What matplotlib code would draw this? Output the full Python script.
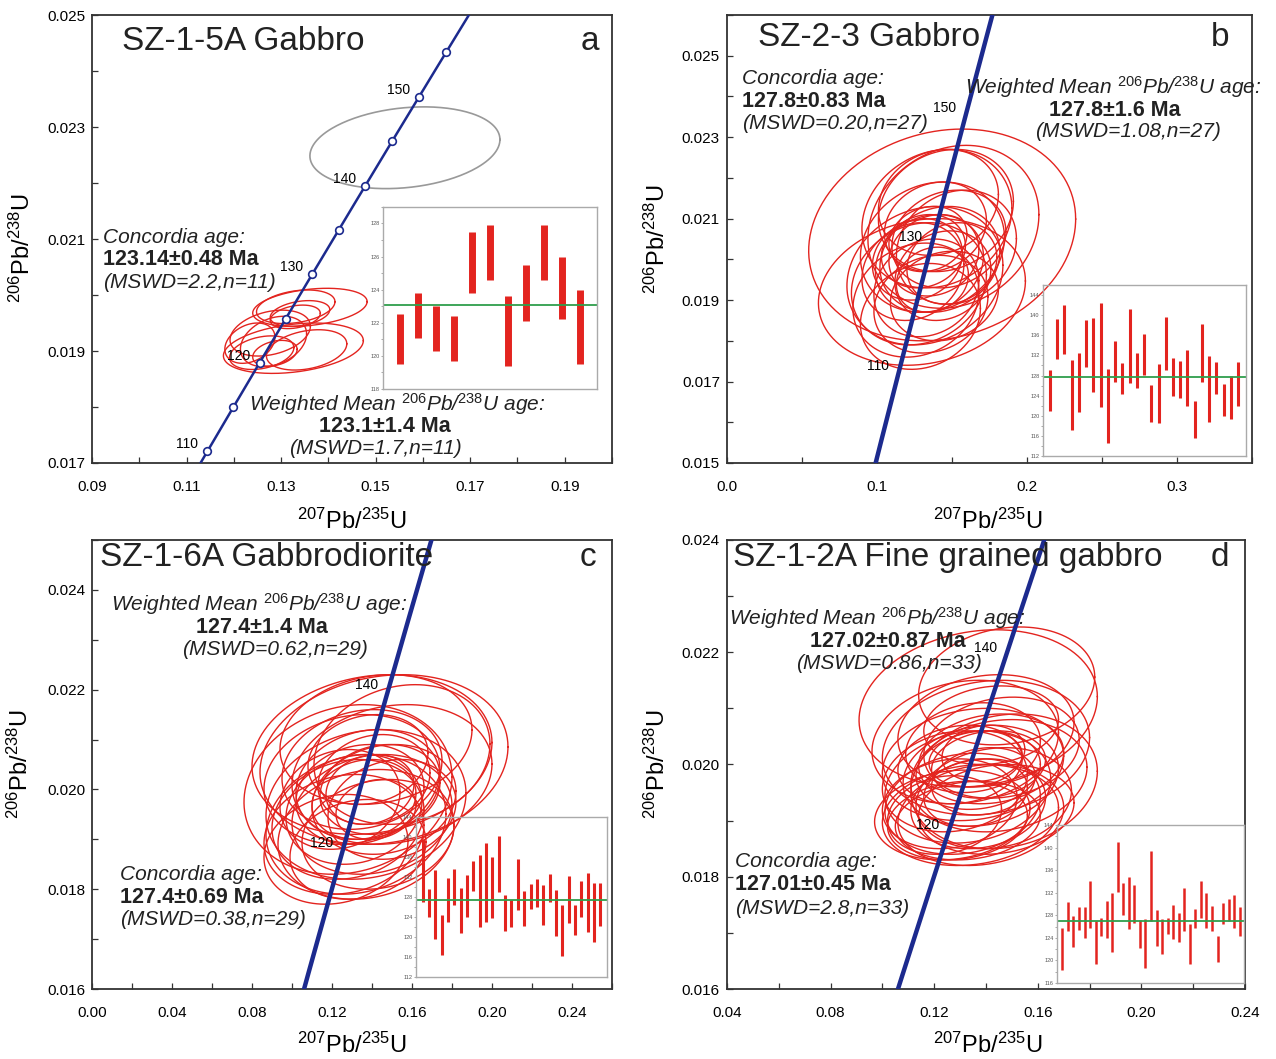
import numpy as np
import matplotlib
matplotlib.use("Agg")
import matplotlib.pyplot as plt

plt.rcParams["font.family"] = ["Liberation Sans", "DejaVu Sans"]
plt.rcParams["mathtext.fontset"] = "custom"
plt.rcParams["mathtext.rm"] = "Liberation Sans"
plt.rcParams["mathtext.it"] = "Liberation Sans:italic"
plt.rcParams["mathtext.bf"] = "Liberation Sans:bold"

# decay constants (1/yr)
L238 = 1.55125e-10
L235 = 9.8485e-10

RED = "#e3241f"
BLUE = "#1c2a8e"
GREEN = "#2f9e4c"

# ---------------- panel a : SZ-1-5A ----------------
a_cx = [0.1361, 0.1331, 0.1340, 0.1330, 0.1326, 0.1277, 0.1284, 0.1354, 0.1259, 0.1287, 0.1234]
a_cy = [0.01978, 0.01979, 0.01967, 0.01961, 0.01905, 0.01932, 0.01917, 0.01902, 0.01897, 0.01896, 0.01914]
a_sx = [0.0121, 0.0083, 0.0063, 0.0053, 0.0148, 0.0085, 0.0070, 0.0085, 0.0068, 0.0047, 0.0053]
a_sy = [0.00034, 0.00030, 0.00023, 0.00021, 0.00045, 0.00041, 0.00045, 0.00036, 0.00030, 0.00023, 0.00036]
a_grey = (0.1562, 0.02263, 0.0201, 0.00073)
a_marks = [110, 115, 120, 125, 130, 135, 140, 145, 150, 155]
a_labels = [110, 120, 130, 140, 150]
a_lo = [119.5, 121.1, 120.3, 119.7, 123.8, 124.6, 119.4, 122.1, 124.6, 122.2, 119.5]
a_hi = [122.5, 123.8, 123.0, 122.4, 127.5, 127.9, 123.6, 125.5, 127.9, 126.0, 124.0]
a_mean = 123.1

# ---------------- panel b : SZ-2-3 ----------------
b_cx = [0.1435, 0.130, 0.151, 0.140, 0.146, 0.137, 0.132, 0.128, 0.142, 0.135, 0.126, 0.148, 0.138, 0.133,
        0.144, 0.131, 0.150, 0.124, 0.139, 0.136, 0.129, 0.145, 0.141, 0.134, 0.127, 0.153, 0.137]
b_cy = [0.0206, 0.0192, 0.0208, 0.0210, 0.0212, 0.0203, 0.0196, 0.0194, 0.0200, 0.0199, 0.0190, 0.0205, 0.0201, 0.0193,
        0.0196, 0.0202, 0.0199, 0.0197, 0.0208, 0.0189, 0.0186, 0.0191, 0.0214, 0.0205, 0.0200, 0.0203, 0.0195]
b_sx = [0.089, 0.069, 0.057, 0.050, 0.045, 0.048, 0.052, 0.045, 0.040, 0.036, 0.042, 0.038, 0.030, 0.035,
        0.032, 0.028, 0.030, 0.034, 0.034, 0.038, 0.040, 0.036, 0.040, 0.026, 0.030, 0.040, 0.024]
b_sy = [0.0026, 0.0018, 0.0020, 0.0017, 0.0015, 0.0016, 0.0017, 0.0015, 0.0013, 0.0012, 0.0014, 0.0012, 0.0010, 0.0012,
        0.0011, 0.0009, 0.0010, 0.0012, 0.0011, 0.0012, 0.0013, 0.0011, 0.0013, 0.0008, 0.0010, 0.0014, 0.0008]
b_labels = [110, 130, 150]
b_lo = [120.9, 131.3, 132.3, 117.1, 120.7, 129.7, 124.7, 121.8, 114.6, 126.8, 124.3, 126.5, 125.6, 128.1,
        118.8, 118.5, 129.1, 123.9, 123.6, 121.9, 115.6, 126.7, 118.8, 124.3, 120.0, 119.3, 122.0]
b_hi = [129.1, 139.3, 142.0, 131.1, 132.5, 139.1, 139.5, 142.4, 129.2, 134.9, 130.5, 141.3, 132.5, 136.2,
        126.2, 130.3, 139.6, 131.5, 130.9, 133.1, 122.9, 138.2, 131.8, 130.7, 126.4, 127.9, 130.6]
b_mean = 127.8

# ---------------- panel c : SZ-1-6A ----------------
c_cx = [0.140, 0.146, 0.128, 0.132, 0.150, 0.137, 0.126, 0.142, 0.138, 0.134, 0.141, 0.139, 0.136, 0.144, 0.131,
        0.128, 0.146, 0.140, 0.135, 0.150, 0.124, 0.133, 0.143, 0.138, 0.142, 0.130, 0.155, 0.122, 0.137]
c_cy = [0.0207, 0.0206, 0.0200, 0.0193, 0.0203, 0.0197, 0.0191, 0.0210, 0.0201, 0.0199, 0.0202, 0.0200, 0.0198, 0.0200, 0.0196,
        0.0194, 0.0198, 0.0195, 0.0204, 0.0196, 0.0198, 0.0188, 0.0191, 0.0206, 0.0196, 0.0202, 0.0207, 0.0188, 0.0191]
c_sx = [0.060, 0.062, 0.052, 0.045, 0.050, 0.050, 0.040, 0.048, 0.036, 0.032, 0.028, 0.022, 0.026, 0.030, 0.034,
        0.038, 0.036, 0.040, 0.040, 0.032, 0.030, 0.034, 0.038, 0.030, 0.020, 0.044, 0.044, 0.036, 0.044]
c_sy = [0.0016, 0.0017, 0.0017, 0.0014, 0.0014, 0.0015, 0.0012, 0.0013, 0.0011, 0.0010, 0.0009, 0.0007, 0.0008, 0.0009, 0.0011,
        0.0012, 0.0011, 0.0012, 0.0012, 0.0010, 0.0010, 0.0010, 0.0011, 0.0009, 0.0006, 0.0013, 0.0014, 0.0011, 0.0013]
c_labels = [120, 140]
c_lo = [127.0, 124.0, 119.6, 116.5, 123.1, 126.5, 120.8, 124.1, 129.2, 122.0, 123.0, 123.8, 129.0, 121.2, 122.0,
        125.5, 122.3, 125.7, 126.0, 122.5, 127.1, 120.3, 116.2, 122.9, 120.4, 124.0, 121.0, 119.1, 122.3]
c_hi = [139.6, 129.6, 133.5, 124.5, 131.9, 133.7, 129.8, 132.4, 135.2, 136.4, 138.9, 136.1, 140.2, 128.5, 127.5,
        135.7, 129.2, 130.6, 131.6, 130.4, 132.7, 129.4, 126.5, 132.2, 126.5, 131.2, 132.8, 130.9, 130.9]
c_mean = 127.4

# ---------------- panel d : SZ-1-2A ----------------
d_cx = [0.137, 0.148, 0.140, 0.129, 0.135, 0.138, 0.133, 0.142, 0.137, 0.139, 0.136, 0.131, 0.127, 0.134, 0.145, 0.140, 0.132,
        0.128, 0.143, 0.137, 0.141, 0.135, 0.146, 0.130, 0.126, 0.138, 0.133, 0.144, 0.147, 0.124, 0.139, 0.136, 0.142]
d_cy = [0.0210, 0.0214, 0.0203, 0.0190, 0.0200, 0.0198, 0.0196, 0.0201, 0.0199, 0.0197, 0.0201, 0.0193, 0.0191, 0.0191, 0.0198, 0.0206, 0.0204,
        0.0197, 0.0194, 0.0193, 0.0200, 0.0203, 0.0203, 0.0200, 0.0193, 0.0191, 0.0190, 0.0192, 0.0197, 0.0191, 0.0202, 0.0195, 0.0207]
d_sx = [0.046, 0.034, 0.040, 0.027, 0.035, 0.030, 0.032, 0.028, 0.024, 0.020, 0.018, 0.030, 0.030, 0.034, 0.034, 0.034, 0.036,
        0.028, 0.030, 0.026, 0.022, 0.026, 0.030, 0.024, 0.026, 0.032, 0.028, 0.030, 0.036, 0.022, 0.016, 0.020, 0.026]
d_sy = [0.0014, 0.00105, 0.0012, 0.0007, 0.0010, 0.0009, 0.0010, 0.0008, 0.0007, 0.0006, 0.0005, 0.0009, 0.0008, 0.0009, 0.0010, 0.0010, 0.0011,
        0.0009, 0.0009, 0.0008, 0.0006, 0.0008, 0.0009, 0.0007, 0.0008, 0.0009, 0.0007, 0.0008, 0.0012, 0.0007, 0.0005, 0.0006, 0.0007]
d_labels = [120, 140]
d_lo = [118.3, 125.2, 122.4, 125.4, 124.0, 125.7, 119.4, 124.3, 124.0, 121.5, 132.2, 128.1, 125.5, 126.6, 122.2, 118.7, 127.0,
        122.6, 121.1, 124.6, 123.8, 123.2, 125.2, 119.4, 125.7, 127.5, 125.7, 125.2, 119.7, 126.4, 126.9, 125.7, 124.3]
d_hi = [125.7, 130.3, 127.9, 129.4, 129.4, 134.0, 127.0, 127.5, 130.5, 132.0, 141.0, 133.7, 134.8, 133.3, 127.2, 127.3, 139.3,
        128.9, 127.3, 127.6, 129.8, 128.4, 132.8, 126.4, 129.1, 134.0, 132.0, 129.6, 124.4, 130.1, 130.8, 131.5, 129.4]
d_mean = 127.0


def concordia(age_ma):
    t = np.asarray(age_ma, dtype=float) * 1e6
    return np.exp(L235 * t) - 1, np.exp(L238 * t) - 1


def ellipse(ax, x0, y0, sx, sy, rho, color=RED, lw=1.0):
    t = np.linspace(0, 2 * np.pi, 240)
    x = x0 + sx * np.cos(t)
    y = y0 + sy * (rho * np.cos(t) + np.sqrt(1 - rho ** 2) * np.sin(t))
    ax.plot(x, y, color=color, lw=lw)


def style_axes(ax, xlim, ylim, xmaj, xmin, ymaj, ymin, xfmt, yfmt):
    ax.set_xlim(xlim)
    ax.set_ylim(ylim)
    ax.set_xticks(xmaj)
    ax.set_xticks(xmin, minor=True)
    ax.set_yticks(ymaj)
    ax.set_yticks(ymin, minor=True)
    ax.set_xticklabels([xfmt % v for v in xmaj])
    ax.set_yticklabels([yfmt % v for v in ymaj])
    for s in ax.spines.values():
        s.set_color("#333333")
        s.set_linewidth(1.3)
    ax.tick_params(which="both", direction="in", length=4, width=0.9, color="#333333")
    ax.tick_params(axis="x", labelsize=11, pad=12)
    ax.tick_params(axis="y", labelsize=11, pad=5)


def axis_labels(ax, xpos, ypos):
    ax.text(xpos[0], xpos[1], r"$\mathregular{^{207}}$Pb/$\mathregular{^{235}}$U", transform=ax.transAxes,
            ha="center", va="center", fontsize=17)
    ax.text(ypos[0], ypos[1], r"$\mathregular{^{206}}$Pb/$\mathregular{^{238}}$U", transform=ax.transAxes,
            ha="center", va="center", fontsize=17, rotation=90)


def curve(ax, lw, labels, marks=None):
    ages = np.linspace(60, 230, 400)
    x, y = concordia(ages)
    ax.plot(x, y, color=BLUE, lw=lw, zorder=3)
    if marks is not None:
        mx, my = concordia(marks)
        ax.plot(mx, my, "o", ms=5.5, mfc="white", mec=BLUE, mew=1.2, zorder=4)
    for age in labels:
        px, py = concordia(age)
        ax.annotate(str(age), (px, py), xytext=(-15, 5), textcoords="offset points",
                    ha="center", va="center", fontsize=10, zorder=5)


def inset(rect, lo, hi, mean, ylim, ymaj, ymin, xlim, lw):
    ia = fig.add_axes(rect)
    ia.patch.set_alpha(0)
    pos = np.arange(1, len(lo) + 1)
    ia.vlines(pos, lo, hi, color=RED, lw=lw)
    ia.axhline(mean, color=GREEN, lw=1.3)
    ia.set_xlim(xlim)
    ia.set_ylim(ylim)
    ia.set_xticks([])
    ia.set_yticks(ymaj)
    ia.set_yticks(ymin, minor=True)
    ia.tick_params(which="both", direction="out", length=1.5, width=0.5, color="#888888",
                   labelsize=4, labelcolor="#555555", pad=1)
    for s in ia.spines.values():
        s.set_color("#aaaaaa")
        s.set_linewidth(1.0)
    return ia


def block(ax, x, y, lines, ha):
    # italic / bold / italic three-line annotation
    ax.text(x[0], y[0], lines[0], transform=ax.transAxes, ha=ha, va="center", fontsize=15, style="italic", color="#222222")
    ax.text(x[1], y[1], lines[1], transform=ax.transAxes, ha=ha, va="center", fontsize=15.5, weight="bold", color="#222222")
    ax.text(x[2], y[2], lines[2], transform=ax.transAxes, ha=ha, va="center", fontsize=15, style="italic", color="#222222")


WM = r"Weighted Mean $\mathit{^{206}}$Pb/$\mathit{^{238}}$U age:"
TS = 24

fig = plt.figure(figsize=(12.76, 10.59), dpi=100)

# ---- a ----
ax = fig.add_axes([0.0721, 0.5628, 0.4075, 0.4230])
style_axes(ax, (0.09, 0.2), (0.017, 0.025),
           [0.09, 0.11, 0.13, 0.15, 0.17, 0.19], [0.10, 0.12, 0.14, 0.16, 0.18, 0.20],
           [0.017, 0.019, 0.021, 0.023, 0.025], [0.018, 0.020, 0.022, 0.024], "%.2f", "%.3f")
ellipse(ax, *a_grey, 0.2, color="#999999", lw=1.2)
for x0, y0, sx, sy in zip(a_cx, a_cy, a_sx, a_sy):
    ellipse(ax, x0, y0, sx, sy, 0.3)
curve(ax, 1.8, a_labels, a_marks)
ax.text(0.058, 0.94, "SZ-1-5A Gabbro", transform=ax.transAxes, fontsize=TS, va="center", color="#222222")
ax.text(0.958, 0.94, "a", transform=ax.transAxes, fontsize=TS, va="center", ha="center", color="#222222")
block(ax, (0.021, 0.021, 0.021), (0.504, 0.455, 0.404),
      ["Concordia age:", "123.14±0.48 Ma", "(MSWD=2.2,n=11)"], "left")
block(ax, (0.587, 0.563, 0.545), (0.131, 0.081, 0.032),
      [WM, "123.1±1.4 Ma", "(MSWD=1.7,n=11)"], "center")
axis_labels(ax, (0.5, -0.13), (-0.135, 0.48))
inset([0.3002, 0.6327, 0.1677, 0.1719], a_lo, a_hi, a_mean, (118, 129),
      [118, 120, 122, 124, 126, 128], [119, 121, 123, 125, 127, 129], (0.06, 11.94), 5)

# ---- b ----
ax = fig.add_axes([0.5697, 0.5628, 0.4114, 0.4230])
style_axes(ax, (0.0, 0.35), (0.015, 0.026),
           [0.0, 0.1, 0.2, 0.3], [0.05, 0.15, 0.25, 0.35],
           [0.015, 0.017, 0.019, 0.021, 0.023, 0.025], [0.016, 0.018, 0.020, 0.022, 0.024, 0.026], "%.1f", "%.3f")
for x0, y0, sx, sy in zip(b_cx, b_cy, b_sx, b_sy):
    ellipse(ax, x0, y0, sx, sy, 0.15)
curve(ax, 3.2, b_labels)
ax.text(0.059, 0.949, "SZ-2-3 Gabbro", transform=ax.transAxes, fontsize=TS, va="center", color="#222222")
ax.text(0.939, 0.949, "b", transform=ax.transAxes, fontsize=TS, va="center", ha="center", color="#222222")
block(ax, (0.029, 0.029, 0.029), (0.859, 0.808, 0.757),
      ["Concordia age:", "127.8±0.83 Ma", "(MSWD=0.20,n=27)"], "left")
block(ax, (0.735, 0.739, 0.764), (0.839, 0.788, 0.739),
      [WM, "127.8±1.6 Ma", "(MSWD=1.08,n=27)"], "center")
axis_labels(ax, (0.497, -0.13), (-0.133, 0.5))
inset([0.8174, 0.5694, 0.1591, 0.1615], b_lo, b_hi, b_mean, (112, 146),
      list(range(112, 145, 4)), list(range(114, 146, 4)), (0.03, 28.1), 2.2)

# ---- c ----
ax = fig.add_axes([0.0721, 0.0661, 0.4075, 0.4240])
style_axes(ax, (0.0, 0.26), (0.016, 0.025),
           [0.0, 0.04, 0.08, 0.12, 0.16, 0.20, 0.24], [0.02, 0.06, 0.10, 0.14, 0.18, 0.22, 0.26],
           [0.016, 0.018, 0.020, 0.022, 0.024], [0.017, 0.019, 0.021, 0.023, 0.025], "%.2f", "%.3f")
for x0, y0, sx, sy in zip(c_cx, c_cy, c_sx, c_sy):
    ellipse(ax, x0, y0, sx, sy, 0.15)
curve(ax, 3.2, c_labels)
ax.text(0.015, 0.962, "SZ-1-6A Gabbrodiorite", transform=ax.transAxes, fontsize=TS, va="center", color="#222222")
ax.text(0.954, 0.962, "c", transform=ax.transAxes, fontsize=TS, va="center", ha="center", color="#222222")
block(ax, (0.322, 0.327, 0.352), (0.857, 0.806, 0.755),
      [WM, "127.4±1.4 Ma", "(MSWD=0.62,n=29)"], "center")
block(ax, (0.054, 0.054, 0.054), (0.254, 0.203, 0.154),
      ["Concordia age:", "127.4±0.69 Ma", "(MSWD=0.38,n=29)"], "left")
axis_labels(ax, (0.5, -0.125), (-0.138, 0.5))
inset([0.3260, 0.0774, 0.1497, 0.1511], c_lo, c_hi, c_mean, (112, 144),
      list(range(112, 145, 4)), list(range(114, 144, 4)), (-0.05, 30.05), 2.2)

# ---- d ----
ax = fig.add_axes([0.5697, 0.0661, 0.4060, 0.4240])
style_axes(ax, (0.04, 0.24), (0.016, 0.024),
           [0.04, 0.08, 0.12, 0.16, 0.20, 0.24], [0.06, 0.10, 0.14, 0.18, 0.22],
           [0.016, 0.018, 0.020, 0.022, 0.024], [0.017, 0.019, 0.021, 0.023], "%.2f", "%.3f")
for x0, y0, sx, sy in zip(d_cx, d_cy, d_sx, d_sy):
    ellipse(ax, x0, y0, sx, sy, 0.15)
curve(ax, 3.2, d_labels)
ax.text(0.012, 0.962, "SZ-1-2A Fine grained gabbro", transform=ax.transAxes, fontsize=TS, va="center", color="#222222")
ax.text(0.952, 0.962, "d", transform=ax.transAxes, fontsize=TS, va="center", ha="center", color="#222222")
block(ax, (0.29, 0.311, 0.312), (0.826, 0.775, 0.724),
      [WM, "127.02±0.87 Ma", "(MSWD=0.86,n=33)"], "center")
block(ax, (0.0155, 0.0155, 0.0155), (0.283, 0.232, 0.180),
      ["Concordia age:", "127.01±0.45 Ma", "(MSWD=2.8,n=33)"], "left")
axis_labels(ax, (0.504, -0.125), (-0.135, 0.5))
inset([0.8284, 0.0718, 0.1466, 0.1492], d_lo, d_hi, d_mean, (116, 144),
      list(range(116, 145, 4)), list(range(118, 144, 4)), (0.04, 33.8), 1.8)

fig.savefig("out.png", dpi=100)
